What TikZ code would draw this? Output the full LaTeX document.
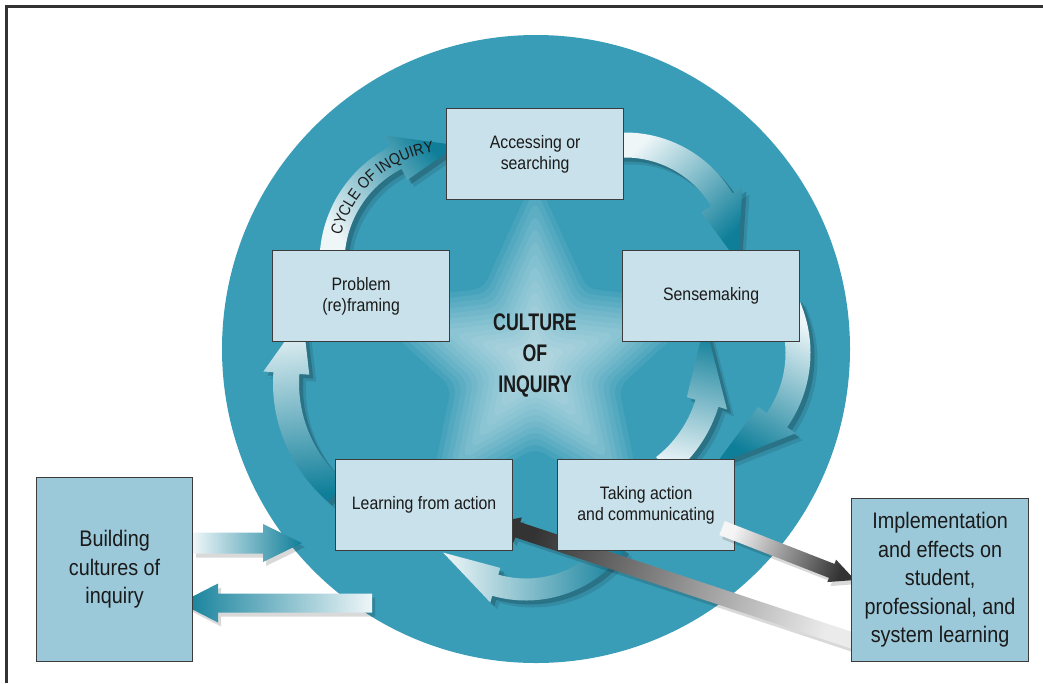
\documentclass[tikz,border=0pt]{standalone}
\usepackage{fontspec}
\setmainfont[FakeStretch=0.88]{Liberation Sans}
\newfontfamily\condbold[FakeStretch=0.74]{Liberation Sans}
\usetikzlibrary{shapes.geometric,decorations.text}
\definecolor{circ}{HTML}{3A9DB7}
\definecolor{boxfill}{HTML}{C9E1EA}
\definecolor{sidefill}{HTML}{9CC9D9}
\definecolor{deep}{HTML}{0E7E99}
\definecolor{pale}{HTML}{EEF6F8}
\definecolor{edge}{HTML}{3C3C3C}
\definecolor{ink}{HTML}{1A1A1A}
% curved band with arrow head: cx cy r a1 a2 a3 hw hh
\newcommand\arcband[8]{%
 plot[domain=#4:#5, samples=40] ({#1+(#3+#7)*cos(\x)},{#2+(#3+#7)*sin(\x)})
 -- ({#1+(#3+#8)*cos(#5)},{#2+(#3+#8)*sin(#5)})
 -- ({#1+#3*cos(#6)},{#2+#3*sin(#6)})
 -- ({#1+(#3-#8)*cos(#5)},{#2+(#3-#8)*sin(#5)})
 -- plot[domain=#5:#4, samples=40] ({#1+(#3-#7)*cos(\x)},{#2+(#3-#7)*sin(\x)})
 -- cycle}
\newcommand\carrow[9]{%
 \fill[black,opacity=0.10,shift={(7,7)}] \arcband{#1}{#2}{#3}{#4}{#5}{#6}{#7}{#8};
 \fill[black,opacity=0.18,shift={(4,4)}] \arcband{#1}{#2}{#3}{#4}{#5}{#6}{#7}{#8};
 \shade[#9] \arcband{#1}{#2}{#3}{#4}{#5}{#6}{#7}{#8};}
% straight band with head: x0 y0 angle length headlen hw hh
\newcommand\sband[7]{%
 ({#1+(0)*cos(#3)-(-#6)*sin(#3)},{#2+(0)*sin(#3)+(-#6)*cos(#3)})
 -- ({#1+(#4-#5)*cos(#3)-(-#6)*sin(#3)},{#2+(#4-#5)*sin(#3)+(-#6)*cos(#3)})
 -- ({#1+(#4-#5)*cos(#3)-(-#7)*sin(#3)},{#2+(#4-#5)*sin(#3)+(-#7)*cos(#3)})
 -- ({#1+(#4)*cos(#3)},{#2+(#4)*sin(#3)})
 -- ({#1+(#4-#5)*cos(#3)-(#7)*sin(#3)},{#2+(#4-#5)*sin(#3)+(#7)*cos(#3)})
 -- ({#1+(#4-#5)*cos(#3)-(#6)*sin(#3)},{#2+(#4-#5)*sin(#3)+(#6)*cos(#3)})
 -- ({#1-(#6)*sin(#3)},{#2+(#6)*cos(#3)})
 -- cycle}
% straight arrow: x0 y0 angle length headlen hw hh tailcolor headcolor
\newcommand\sarrow[9]{%
 \pgfmathsetmacro\shang{90-(#3)}%
 \fill[black,opacity=0.15,shift={(3,4)}] \sband{#1}{#2}{#3}{#4}{#5}{#6}{#7};
 \shade[left color=#8, right color=#9, shading angle=\shang] \sband{#1}{#2}{#3}{#4}{#5}{#6}{#7};}
\tikzset{
 stagebox/.style={draw=edge, line width=1.2pt, fill=boxfill, minimum width=177pt, minimum height=91pt,
   align=center, inner sep=0pt, font=\fontsize{18}{21}\selectfont, text=ink, anchor=north west},
 sidebox/.style={draw=edge, line width=1.2pt, fill=sidefill, align=center, inner sep=0pt,
   font=\fontsize{22.5}{28.5}\selectfont, text=ink, anchor=north west},
 glow/.style={star, star points=5, star point ratio=2.1, fill=white, opacity=0.065, inner sep=0pt,
   draw=none, rounded corners=10pt}
}
\begin{document}
\begin{tikzpicture}[x=1pt,y=-1pt]
\useasboundingbox (0,0) rectangle (1043,683);
\fill[white] (0,0) rectangle (1043,683);
% big circle
\fill[circ] (536,349) circle (314);
% star glow
\foreach \s in {370,345,320,295,270,245,220,195,170,145,120,95,70,50}{
  \node[glow, minimum size=\s pt] (star\s) at (535,360) {};
}
% cycle arrows
\carrow{449}{262}{117}{183}{243}{274}{12.5}{25}{left color=pale, right color=deep, shading angle=130}
\carrow{625}{258}{113}{-95}{-31}{2}{12.5}{24}{left color=pale, right color=deep, shading angle=44.5}
\carrow{681}{353}{117}{-25}{35}{73}{12.5}{23}{left color=pale, right color=deep, shading angle=331.7}
\carrow{585}{366}{127.5}{52}{17}{-20}{12}{21}{left color=pale, right color=deep, shading angle=166.4}
\carrow{526}{478}{111.5}{36}{106}{138}{11}{18}{left color=deep, right color=pale, shading angle=270}
\carrow{428}{383}{142}{130}{184}{208}{13}{23}{left color=deep, right color=pale, shading angle=187}
% text on cycle arrow
\path[decorate, decoration={text along path, text align=center,
  text={|\fontsize{16}{16}\selectfont\color{ink}|CYCLE OF INQUIRY}}]
  plot[domain=190:266, samples=50] ({449+111*cos(\x)},{262+111*sin(\x)});
% arrows to/from the left box
\sarrow{193}{543}{0}{109}{39}{10.5}{19}{pale}{deep}
\sarrow{372}{603}{180}{192}{38}{9.5}{19.5}{pale}{deep}
% grey arrow back to learning
\sarrow{860}{643}{-161.7}{384.5}{24}{8}{13}{black!8}{black!80}
% stage boxes
\node[stagebox] (acc) at (446,108) {Accessing or\\searching};
\node[stagebox] (sense) at (622,250) {Sensemaking};
\node[stagebox] (prob) at (272,250) {Problem\\(re)framing};
\node[stagebox] (learn) at (335,459) {Learning from action};
\node[stagebox] (take) at (557,459) {Taking action\\and communicating};
% grey arrow to implementation
\sarrow{722}{528}{21.35}{142.8}{25}{7.5}{12}{black!4}{black!80}
% side boxes
\node[sidebox, minimum width=156pt, minimum height=184pt] (build) at (36,477) {Building\\cultures of\\inquiry};
\node[sidebox, minimum width=177pt, minimum height=163pt] (impl) at (851,498) {Implementation\\and effects on\\student,\\professional, and\\system learning};
% centre title
\node[align=center, text=ink, font=\condbold\bfseries\fontsize{24}{31}\selectfont] (title) at (535,355) {CULTURE\\OF\\INQUIRY};
% frame
\draw[line width=3pt, black!80] (1043,6) -- (6,6) -- (6,683);
\end{tikzpicture}
\end{document}
